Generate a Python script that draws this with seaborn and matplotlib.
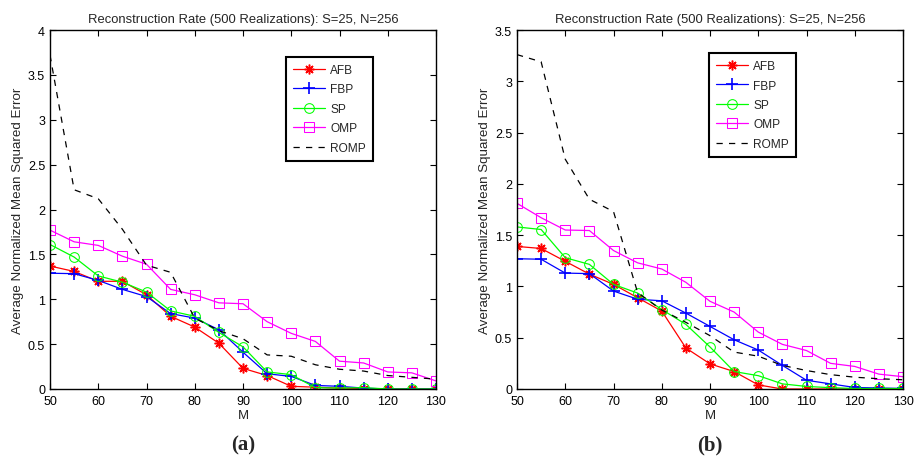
import matplotlib
matplotlib.use("Agg")
import matplotlib.pyplot as plt
import seaborn as sns
import numpy as np
import pandas as pd

M = [50, 55, 60, 65, 70, 75, 80, 85, 90, 95, 100, 105, 110, 115, 120, 125, 130]

# Panel (a)
afb_a = [1.37, 1.31, 1.20, 1.20, 1.05, 0.81, 0.69, 0.51, 0.23, 0.15, 0.03, 0.02, 0.01, 0.005, 0.0, 0.0, 0.0]
fbp_a = [1.29, 1.285, 1.21, 1.11, 1.03, 0.84, 0.79, 0.66, 0.41, 0.17, 0.14, 0.04, 0.03, 0.01, 0.0, 0.0, 0.0]
sp_a = [1.61, 1.47, 1.26, 1.19, 1.08, 0.87, 0.81, 0.63, 0.47, 0.19, 0.16, 0.015, 0.01, 0.015, 0.0, 0.0, 0.0]
omp_a = [1.77, 1.64, 1.60, 1.48, 1.39, 1.11, 1.05, 0.96, 0.95, 0.75, 0.62, 0.53, 0.31, 0.29, 0.19, 0.18, 0.09]
romp_a = [3.72, 2.22, 2.12, 1.78, 1.38, 1.30, 0.79, 0.65, 0.56, 0.38, 0.365, 0.27, 0.22, 0.20, 0.15, 0.13, 0.11]

# Panel (b)
afb_b = [1.39, 1.37, 1.245, 1.12, 1.02, 0.89, 0.76, 0.40, 0.245, 0.17, 0.04, 0.0, 0.0, 0.0, 0.0, 0.0, 0.0]
fbp_b = [1.27, 1.265, 1.13, 1.125, 0.955, 0.875, 0.86, 0.74, 0.61, 0.48, 0.38, 0.23, 0.085, 0.05, 0.015, 0.01, 0.005]
sp_b = [1.58, 1.555, 1.28, 1.215, 1.02, 0.935, 0.775, 0.63, 0.41, 0.17, 0.13, 0.05, 0.025, 0.013, 0.005, 0.005, 0.005]
omp_b = [1.81, 1.67, 1.55, 1.545, 1.35, 1.23, 1.17, 1.04, 0.855, 0.75, 0.555, 0.435, 0.375, 0.25, 0.22, 0.145, 0.12]
romp_b = [3.26, 3.19, 2.24, 1.85, 1.73, 0.94, 0.77, 0.65, 0.52, 0.36, 0.32, 0.23, 0.18, 0.14, 0.115, 0.10, 0.09]

names = ["AFB", "FBP", "SP", "OMP", "ROMP"]
title = "Reconstruction Rate (500 Realizations): S=25, N=256"
ylabel = "Average Normalized Mean Squared Error"
xlabel = "M"
panel_labels = ["(a)", "(b)"]
yticks_a = [0, 0.5, 1, 1.5, 2, 2.5, 3, 3.5, 4]
yticks_b = [0, 0.5, 1, 1.5, 2, 2.5, 3, 3.5]
xticks = [50, 60, 70, 80, 90, 100, 110, 120, 130]

sns.set_style("ticks")
plt.rcParams["font.family"] = ["Liberation Sans", "DejaVu Sans"]
plt.rcParams["xtick.direction"] = "in"
plt.rcParams["ytick.direction"] = "in"
plt.rcParams["xtick.top"] = True
plt.rcParams["ytick.right"] = True

W, H = 915, 464
fig = plt.figure(figsize=(W / 100, H / 100), dpi=100)

styles = {
    "AFB": dict(color="#ff0000", marker=(8, 2, 0), markersize=7, markeredgewidth=1.1, markeredgecolor="#ff0000", linestyle="-"),
    "FBP": dict(color="#0000ff", marker="+", markersize=8, markeredgewidth=1.2, markeredgecolor="#0000ff", linestyle="-"),
    "SP": dict(color="#00ff00", marker="o", markersize=7, markerfacecolor="none", markeredgecolor="#00ff00", linestyle="-"),
    "OMP": dict(color="#ff00ff", marker="s", markersize=6.5, markerfacecolor="none", markeredgecolor="#ff00ff", linestyle="-"),
    "ROMP": dict(color="black", marker=None, linestyle=(0, (5, 5))),
}

def draw(axrect, series, yticks, ymax, leg_anchor, plabel, plabel_x):
    ax = fig.add_axes(axrect)
    for name, vals in zip(names, series):
        df = pd.DataFrame({"M": M, "v": vals})
        st = dict(styles[name])
        sns.lineplot(data=df, x="M", y="v", ax=ax, label=name, linewidth=0.9, **st)
    ax.set_xlim(50, 130)
    ax.set_ylim(0, ymax)
    ax.set_xticks(xticks)
    ax.set_yticks(yticks)
    ax.set_yticklabels([("%g" % t) for t in yticks])
    ax.tick_params(labelsize=9, length=4, width=0.8, colors="black")
    ax.tick_params(axis="x", pad=4.5)
    ax.tick_params(axis="y", pad=3.5)
    for s in ax.spines.values():
        s.set_linewidth(1.0)
        s.set_color("black")
    ax.set_title(title, fontsize=9.4, pad=6)
    ax.set_xlabel(xlabel, fontsize=9.5, labelpad=1)
    ax.set_ylabel(ylabel, fontsize=9.6, labelpad=3)
    leg = ax.legend(loc="upper left", bbox_to_anchor=leg_anchor, fontsize=8.6, frameon=True,
                    fancybox=False, edgecolor="black", framealpha=1, handlelength=2.7,
                    borderpad=0.6, labelspacing=0.62, handletextpad=0.4, borderaxespad=0)
    leg.get_frame().set_linewidth(1.5)
    fig.text(plabel_x, 1 - 445 / H, plabel, fontsize=15, fontweight="bold",
             family=["Liberation Serif", "DejaVu Serif"], ha="center", va="center")
    return ax

draw([50 / W, 74 / H, 386 / W, 359 / H], [afb_a, fbp_a, sp_a, omp_a, romp_a], yticks_a, 4,
     (0.611, 0.925), panel_labels[0], 243 / W)
draw([517 / W, 74 / H, 386 / W, 359 / H], [afb_b, fbp_b, sp_b, omp_b, romp_b], yticks_b, 3.5,
     (0.497, 0.936), panel_labels[1], 710 / W)

fig.savefig("out.png", dpi=100)
